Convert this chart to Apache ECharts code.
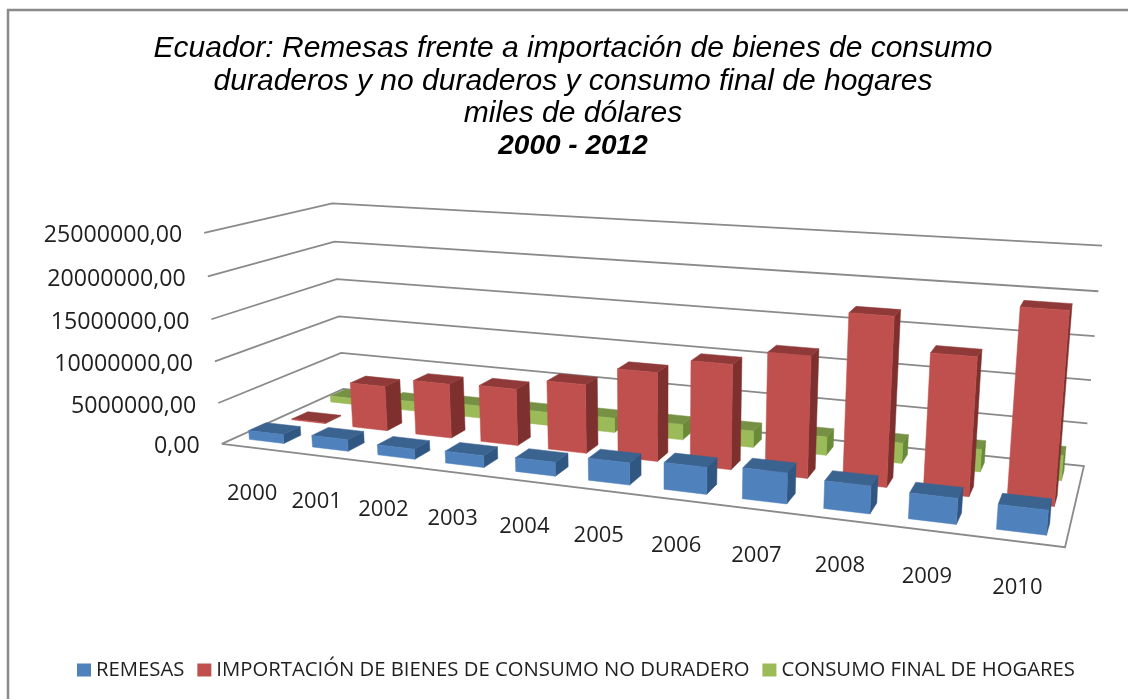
<!DOCTYPE html>
<html><head><meta charset="utf-8">
<style>html,body{margin:0;padding:0;background:#fff}#c{width:1128px;height:699px}</style>
<script src="https://cdn.jsdelivr.net/npm/echarts@6/dist/echarts.min.js"></script>
</head><body><div id="c"></div>
<script>
const years = ['2000','2001','2002','2003','2004','2005','2006','2007','2008','2009','2010'];
const remesas = [1100000,1400000,1200000,1400000,1600000,2500000,3000000,3400000,3000000,2750000,2600000];
const importacion = [100000,5550000,6650000,6850000,8200000,10400000,12100000,13800000,18800000,15200000,20700000];
const consumo = [800000,1200000,1550000,1650000,1800000,1900000,2000000,2200000,2400000,2600000,2850000];
const yTicks = [0,5000000,10000000,15000000,20000000,25000000];
const yTickLabels = ['0,00','5000000,00','10000000,00','15000000,00','20000000,00','25000000,00'];
const titleLines = ['Ecuador: Remesas frente a importación de bienes de consumo','duraderos y no duraderos y consumo final de hogares','miles de dólares','2000 - 2012'];
const seriesNames = ['REMESAS','IMPORTACIÓN DE BIENES DE CONSUMO NO DURADERO','CONSUMO FINAL DE HOGARES'];

// camera calibration: model corner (u,v,w) -> picture position of the 3D box
const calib = [
 [0,0,0,222,443],[1,0,0,1065,548],[0,1,0,343,390],[1,1,0,1084,465],
 [0,1,1,332.5,203],[1,1,1,1102,246],[0,0,1,204,233]
];
function solveCamera(){
  const A=[],b=[];
  calib.forEach(([u,v,w,x,y])=>{
    x/=1000;y/=1000;
    A.push([u,v,w,1,0,0,0,0,-x*u,-x*v,-x*w]);b.push(x);
    A.push([0,0,0,0,u,v,w,1,-y*u,-y*v,-y*w]);b.push(y);
  });
  const n=11,M=[];
  for(let i=0;i<n;i++){const r=[];
    for(let j=0;j<n;j++){let s=0;A.forEach(a=>s+=a[i]*a[j]);r.push(s);}
    let s=0;A.forEach((a,k)=>s+=a[i]*b[k]);r.push(s);M.push(r);}
  for(let i=0;i<n;i++){let p=i;
    for(let k=i+1;k<n;k++)if(Math.abs(M[k][i])>Math.abs(M[p][i]))p=k;
    [M[i],M[p]]=[M[p],M[i]];
    for(let k=0;k<n;k++){if(k===i)continue;const f=M[k][i]/M[i][i];
      for(let j=i;j<=n;j++)M[k][j]-=f*M[i][j];}}
  return M.map((r,i)=>r[n]/r[i]);
}
const P=solveCamera();
function project(u,v,w){
  const d=P[8]*u+P[9]*v+P[10]*w+1;
  return [1000*(P[0]*u+P[1]*v+P[2]*w+P[3])/d,1000*(P[4]*u+P[5]*v+P[6]*w+P[7])/d];
}

const G={left:0,top:0,width:1000,height:500};
const BAR_W=0.55, rows=[[0.10,0.233],[0.433,0.567],[0.767,0.90]];
const faces=[
 {front:'#4F81BD',top:'#3B6390',side:'#305781'},
 {front:'#C0504D',top:'#8F3A39',side:'#7E302E'},
 {front:'#9BBB59',top:'#769144',side:'#6A8A39'}
];
function toUW(api,cat,val){
  const c=api.coord([cat,val]);
  return [(c[0]-G.left)/G.width,(G.top+G.height-c[1])/G.height];
}
function barRenderer(row){
  return function(params,api){
    const cat=api.value(0),val=api.value(1);
    const [uc,w]=toUW(api,cat,val);
    const slot=api.size([1,0])[0]/G.width;
    const u0=uc-slot*BAR_W/2,u1=uc+slot*BAR_W/2;
    const [v0,v1]=rows[row];
    const poly=(pts,fill)=>({type:'polygon',shape:{points:pts},style:{fill:fill,stroke:fill,lineWidth:0.5}});
    return {type:'group',children:[
      poly([project(u1,v0,0),project(u1,v1,0),project(u1,v1,w),project(u1,v0,w)],faces[row].side),
      poly([project(u0,v0,w),project(u1,v0,w),project(u1,v1,w),project(u0,v1,w)],faces[row].top),
      poly([project(u0,v0,0),project(u1,v0,0),project(u1,v0,w),project(u0,v0,w)],faces[row].front)
    ]};
  };
}
function wallRenderer(params,api){
  const val=api.value(0);
  const [,w]=toUW(api,0,val);
  const lineStyle={stroke:'#8A8A8A',lineWidth:1.8,fill:null};
  const pts=[project(0,0,w),project(0,1,w),project(1,1,w)];
  if(val===0){pts.push(project(1,0,0));pts.push(project(0,0,0));}
  const a=project(0,0,w);
  return {type:'group',children:[
    {type:'polyline',shape:{points:pts},style:lineStyle},
    {type:'text',style:{text:yTickLabels[params.dataIndex],x:a[0]-22,y:a[1]+3,align:'right',verticalAlign:'middle',
      fontFamily:'Open Sans',fontSize:23.2,fill:'#1f1f1f'}}
  ]};
}
function yearRenderer(params,api){
  const [uc]=toUW(api,api.value(0),0);
  const a=project(uc,0,0);
  return {type:'text',style:{text:years[params.dataIndex],x:a[0]-1,y:a[1]+46,align:'center',verticalAlign:'middle',
    fontFamily:'Open Sans',fontSize:22,fill:'#1f1f1f'}};
}
const barSeries=[remesas,importacion,consumo].map((vals,i)=>({
  type:'custom',name:seriesNames[i],z:5-i,silent:true,
  itemStyle:{color:faces[i].front},
  renderItem:barRenderer(i),
  encode:{x:0,y:1},
  data:vals.map((v,k)=>[k,v])
}));
const chart=echarts.init(document.getElementById('c'),null,{renderer:'canvas'});
chart.setOption({
  animation:false,backgroundColor:'#fff',
  title:{left:568,top:28,textAlign:'center',
    text:titleLines.slice(0,3).map(t=>'{a|'+t+'}').join('\n')+'\n{b|'+titleLines[3]+'}',
    textStyle:{rich:{
      a:{fontFamily:'Liberation Sans',fontStyle:'italic',fontWeight:'normal',fontSize:30,lineHeight:32.3,color:'#000'},
      b:{fontFamily:'Liberation Sans',fontStyle:'italic',fontWeight:'bold',fontSize:28,lineHeight:32.3,color:'#000'}
    }}},
  legend:{left:72,top:655,data:seriesNames,icon:'rect',itemWidth:14,itemHeight:13,itemGap:13,selectedMode:false,
    textStyle:{fontFamily:'Open Sans',fontSize:20.3,color:'#1f1f1f'}},
  grid:Object.assign({},G,{containLabel:false}),
  xAxis:{type:'category',data:years,show:false},
  yAxis:{type:'value',min:0,max:25000000,interval:5000000,show:false},
  series:[
    {type:'custom',name:'ejes',z:1,silent:true,renderItem:wallRenderer,encode:{y:0},data:yTicks.map(v=>[v])},
    {type:'custom',name:'años',z:1,silent:true,renderItem:yearRenderer,encode:{x:0},data:years.map((y,k)=>[k])}
  ].concat(barSeries),
  graphic:[{type:'polyline',silent:true,shape:{points:[[8,699],[8,10],[1128,10]]},style:{stroke:'#8A8A8A',lineWidth:2.5,fill:null},z:0}]
});
</script></body></html>
